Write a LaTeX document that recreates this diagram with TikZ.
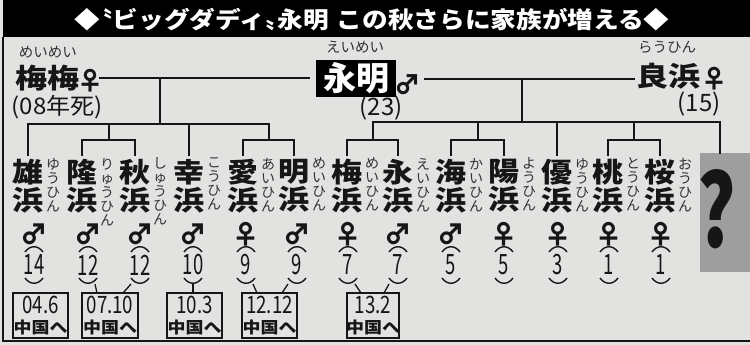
\documentclass[tikz,border=0pt]{standalone}
\usepackage{fontspec}
\setmainfont{Noto Sans CJK JP}
\newfontfamily\jp{Noto Sans CJK JP}
\usetikzlibrary{calc}
\definecolor{paper}{RGB}{226,226,224}
\definecolor{ink}{RGB}{22,22,22}
\definecolor{rubyc}{RGB}{50,50,50}
\definecolor{qgrey}{RGB}{158,158,158}
\newcommand\vsq[2]{\scalebox{1}[#1]{#2}}
\newcommand\hsq[2]{\scalebox{#1}[1]{#2}}
\newcommand\sym[1]{\makebox[0.62em][c]{#1}}
% id, x, offset, kanji, ruby, gender, age
\newcommand\kid[7]{%
  \node[kname, anchor=north] (k#1) at (#2,159) {\vsq{0.88}{#4}\\\vsq{0.88}{浜}};
  \node[rubyv, anchor=north] (r#1) at (#2+25,158) {#5};
  \node[gsym] (g#1) at (#2+#3,234) {\sym{#6}};
  \node[agef] (a#1) at (#2+#3,265) {\hsq{0.66}{#7}};
  \draw[parc] (#2+#3-9,252) .. controls (#2+#3-4,245) and (#2+#3+4,245) .. (#2+#3+9,252);
  \draw[parc] (#2+#3-9,278) .. controls (#2+#3-4,285) and (#2+#3+4,285) .. (#2+#3+9,278);
  \coordinate (b#1) at (#2+#3,284);
}
\begin{document}
\begin{tikzpicture}[x=1pt,y=-1pt,
  every node/.style={inner sep=0pt,outer sep=0pt,text=ink},
  tree/.style={draw=ink,line width=2pt,line cap=rect},
  tick/.style={draw=ink,line width=1.3pt},
  parc/.style={draw=ink,line width=1.4pt},
  big/.style={font=\jp\bfseries\fontsize{32}{32}\selectfont},
  rubyh/.style={font=\jp\fontsize{14.5}{14.5}\selectfont,text=rubyc},
  rubyv/.style={font=\jp\fontsize{14}{14}\selectfont,text=rubyc,align=center},
  kname/.style={font=\jp\bfseries\fontsize{31}{28}\selectfont,align=center},
  gsym/.style={font=\jp\bfseries\fontsize{27}{27}\selectfont},
  psym/.style={font=\jp\bfseries\fontsize{26}{26}\selectfont},
  agef/.style={font=\jp\fontsize{28}{28}\selectfont},
  pfont/.style={font=\jp\fontsize{24}{24}\selectfont},
  dbox/.style={draw=ink,line width=1.4pt,minimum width=55pt,minimum height=45pt},
  dfont/.style={font=\jp\fontsize{24}{24}\selectfont},
  cfont/.style={font=\jp\bfseries\fontsize{18}{18}\selectfont},
]
\fill[paper] (0,0) rectangle (750,345);
\useasboundingbox (0,0) rectangle (750,345);
% title bar and frame
\fill[black] (3,0) rectangle (750,37);
\draw[draw=ink,line width=2pt] (3,37) -- (3,341) -- (750,341);
\node[font=\jp\bfseries\fontsize{24}{24}\selectfont,text=white] (title) at (372,20)
  {\scalebox{1}[0.9]{\resizebox{595pt}{!}{◆\makebox[0.5em][r]{〝}ビッグダディ\makebox[0.5em][l]{〟}永明\hspace{0.3em}この秋さらに家族が増える◆}}};

% parents
\node[rubyh] (rmm) at (48,52) {めいめい};
\node[big] (mm) at (47.5,78.5) {\vsq{0.85}{梅梅}};
\node[psym] (gmm) at (90,81) {\sym{♀}};
\node[pfont] (dmm) at (57,107) {\vsq{0.95}{(08年死)}};

\node[rubyh] (rym) at (355,47) {えいめい};
\node[fill=black,minimum width=80pt,minimum height=37pt,text=white,font=\jp\bfseries\fontsize{33}{33}\selectfont] (ym) at (356,78.5) {永明};
\node[psym] (gym) at (407,85) {\sym{♂}};
\node[pfont] (aym) at (381,108) {(23)};

\node[rubyh] (rrh) at (667,47) {らうひん};
\node[big] (rh) at (668,76) {\vsq{0.85}{良浜}};
\node[psym] (grh) at (714,79) {\sym{♀}};
\node[pfont] (arh) at (699,104) {(15)};

% children
\kid{1}{28}{6}{雄}{ゆ\\う\\ひ\\ん}{♂}{14}
\kid{2}{82}{6}{隆}{り\\ゅ\\う\\ひ\\ん}{♂}{12}
\kid{3}{135}{5}{秋}{し\\ゅ\\う\\ひ\\ん}{♂}{12}
\kid{4}{189}{4}{幸}{こ\\う\\ひ\\ん}{♂}{10}
\kid{5}{243}{3}{愛}{あ\\い\\ひ\\ん}{♀}{9}
\kid{6}{294}{3}{明}{め\\い\\ひ\\ん}{♂}{9}
\kid{7}{347}{1}{梅}{め\\い\\ひ\\ん}{♀}{7}
\kid{8}{398}{0}{永}{え\\い\\ひ\\ん}{♂}{7}
\kid{9}{451}{0}{海}{か\\い\\ひ\\ん}{♂}{5}
\kid{10}{504}{0}{陽}{よ\\う\\ひ\\ん}{♀}{5}
\kid{11}{557}{1}{優}{ゆ\\う\\ひ\\ん}{♀}{3}
\kid{12}{608}{1}{桃}{と\\う\\ひ\\ん}{♀}{1}
\kid{13}{660}{1}{桜}{お\\う\\ひ\\ん}{♀}{1}

% unknown child
\node[fill=qgrey,minimum width=50pt,minimum height=119pt] (q) at (725,212.5) {};
\node[font=\jp\bfseries\fontsize{100}{100}\selectfont] (qm) at (717,209) {\hsq{0.72}{?}};

% couple lines
\coordinate (tl1) at (100,78.5);
\draw[tree] (tl1) -- ([xshift=-7pt]ym.west);
\coordinate (tr1) at (425,79);
\draw[tree] (tr1) -- ([xshift=-2pt]rh.west |- tr1);

% left family
\coordinate (sL) at (160,78.5); \coordinate (bL) at (160,124);
\coordinate (jL2) at (108.5,124); \coordinate (jL2b) at (108.5,140);
\coordinate (jL4) at (268.5,124); \coordinate (jL4b) at (268.5,140);
\draw[tree] (sL) -- (bL);
\draw[tree] ([yshift=4pt]k1.north) |- (jL4);
\draw[tree] (jL2) -- (jL2b);
\draw[tree] ([yshift=4pt]k2.north) |- (jL2b) -| ([yshift=4pt]k3.north);
\draw[tree] (k4.north |- bL) -- ([yshift=4pt]k4.north);
\draw[tree] (jL4) -- (jL4b);
\draw[tree] ([yshift=4pt]k5.north) |- (jL4b) -| ([yshift=4pt]k6.north);

% right family
\coordinate (sR) at (522,79); \coordinate (bR) at (522,122);
\coordinate (jR1) at (372.5,122); \coordinate (jR1b) at (372.5,140);
\coordinate (jR2) at (477.5,122); \coordinate (jR2b) at (477.5,140);
\coordinate (jR4) at (634,122); \coordinate (jR4b) at (634,140);
\coordinate (jR5) at (720,122);
\draw[tree] (sR) -- (bR);
\draw[tree] (jR1) -- (jR5);
\draw[tree] (jR1) -- (jR1b);
\draw[tree] ([yshift=4pt]k7.north) |- (jR1b) -| ([yshift=4pt]k8.north);
\draw[tree] (jR2) -- (jR2b);
\draw[tree] ([yshift=4pt]k9.north) |- (jR2b) -| ([yshift=4pt]k10.north);
\draw[tree] (k11.north |- bR) -- ([yshift=4pt]k11.north);
\draw[tree] (jR4) -- (jR4b);
\draw[tree] ([yshift=4pt]k12.north) |- (jR4b) -| ([yshift=4pt]k13.north);
\draw[tree] (jR5) -- (jR5 |- q.north);

% emigration boxes
\node[dbox] (d1) at (40.5,315.5) {};
\node[dbox,minimum width=56pt] (d2) at (110,315.5) {};
\node[dbox] (d3) at (194.5,315.5) {};
\node[dbox] (d4) at (269.5,315.5) {};
\node[dbox,minimum width=52pt] (d5) at (373,315.5) {};
\node[dfont] (dt1) at (40.5,305) {\hsq{0.78}{04.6}};
\node[dfont] (dt2) at (110,305) {\hsq{0.78}{07.10}};
\node[dfont] (dt3) at (194.5,305) {\hsq{0.78}{10.3}};
\node[dfont] (dt4) at (269.5,305) {\hsq{0.78}{12.12}};
\node[dfont] (dt5) at (373,305) {\hsq{0.78}{13.2}};
\node[cfont] (ct1) at (40.5,327) {\vsq{0.88}{中国へ}};
\node[cfont] (ct2) at (110,327) {\vsq{0.88}{中国へ}};
\node[cfont] (ct3) at (194.5,327) {\vsq{0.88}{中国へ}};
\node[cfont] (ct4) at (269.5,327) {\vsq{0.88}{中国へ}};
\node[cfont] (ct5) at (373,327) {\vsq{0.88}{中国へ}};

% ticks
\draw[tick] ($(b1)+(-3,0)$) -- ($(b1)+(-3,0)$ |- d1.north);
\draw[tick] ($(b2)+(7,0)$) -- ($(d2.north west)+(15,0)$);
\draw[tick] ($(b3)+(-9,0)$) -- ($(d2.north east)+(-15,0)$);
\draw[tick] (b4) -- (b4 |- d3.north);
\draw[tick] ($(b5)+(7,0)$) -- ($(d4.north west)+(15,0)$);
\draw[tick] ($(b6)+(-9,0)$) -- ($(d4.north east)+(-15,0)$);
\draw[tick] ($(b7)+(7,0)$) -- ($(d5.north west)+(14,0)$);
\draw[tick] ($(b8)+(-9,0)$) -- ($(d5.north east)+(-15,0)$);
\end{tikzpicture}
\end{document}
